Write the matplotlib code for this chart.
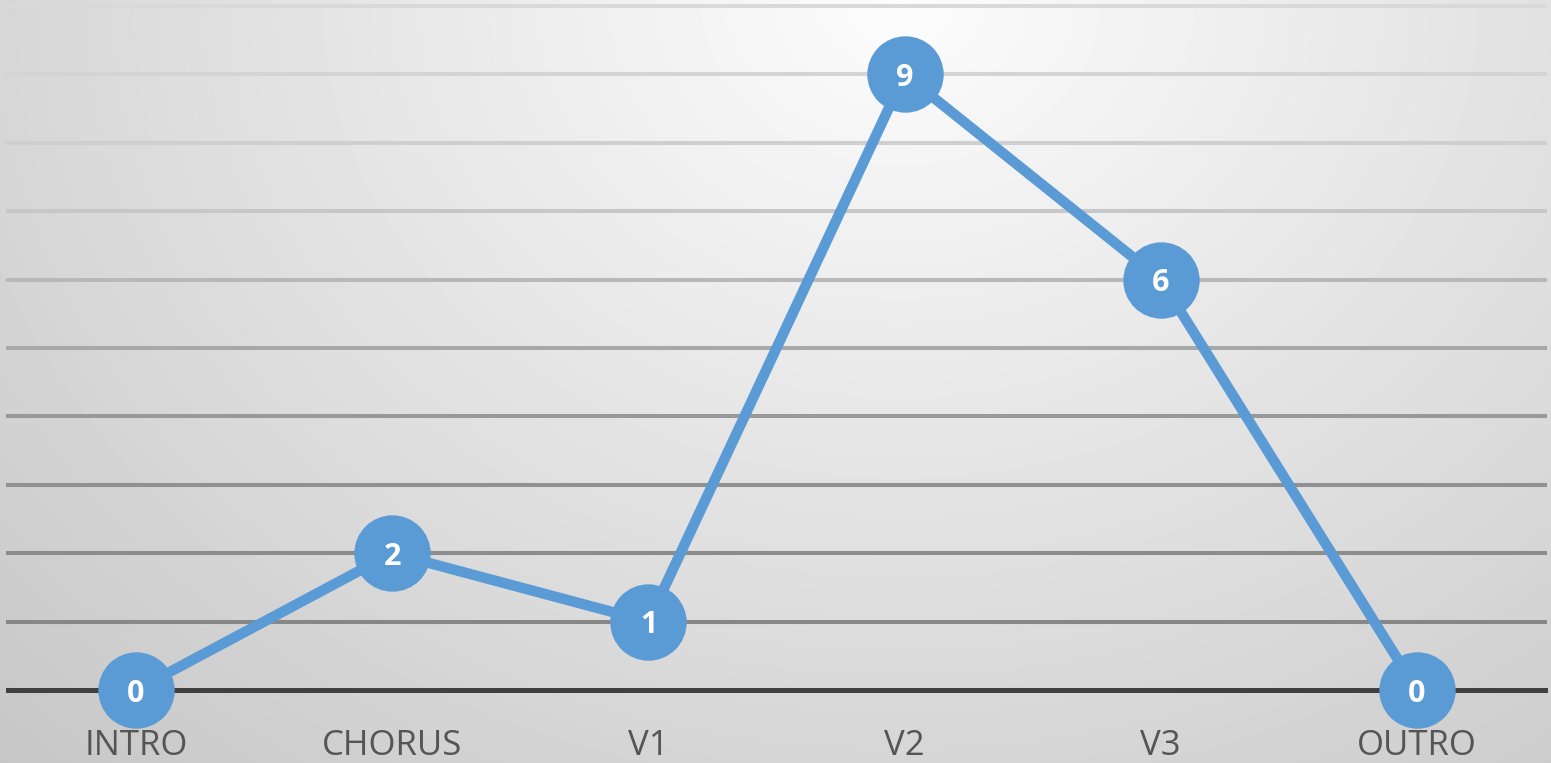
import matplotlib.pyplot as plt
import matplotlib.transforms as mtransforms
import numpy as np

sections = ["INTRO", "CHORUS", "V1", "V2", "V3", "OUTRO"]
counts = [0, 2, 1, 9, 6, 0]
grid_levels = [1, 2, 3, 4, 5, 6, 7, 8, 9, 10]
grid_grays = [0.53, 0.55, 0.57, 0.60, 0.66, 0.72, 0.78, 0.81, 0.83, 0.85]

W, H = 1551, 763
fig = plt.figure(figsize=(W / 100, H / 100), dpi=100)

# radial background, light at top middle, grey toward the corners
bg = fig.add_axes([0, 0, 1, 1], zorder=0)
yy, xx = np.mgrid[0:H, 0:W]
r = np.sqrt(((xx - 900) / 1150.0) ** 2 + (yy / 950.0) ** 2)
shade = np.clip(0.99 - 0.19 * r, 0, 1)
bg.imshow(shade, cmap="gray", vmin=0, vmax=1, aspect="auto", extent=[0, 1, 0, 1])
bg.axis("off")

left, right = 8 / W, 1545 / W
bottom, top = (H - 690) / H, (H - 6) / H
ax = fig.add_axes([left, bottom, right - left, top - bottom], zorder=1)
ax.patch.set_alpha(0)
x = np.arange(len(sections))
ax.set_xlim(-0.5, len(sections) - 0.5)
ax.set_ylim(0, 10)
for s in ax.spines.values():
    s.set_visible(False)
ax.set_xticks([])
ax.set_yticks([])

for lvl, g in zip(grid_levels, grid_grays):
    ax.axhline(lvl, color=str(g), lw=2.9, zorder=1, clip_on=False)
ax.axhline(0, color="#404040", lw=3.6, zorder=2, clip_on=False)

ax.plot(x, counts, color="#5b9bd5", lw=7.5, marker="o", markersize=55,
        markeredgewidth=0, zorder=3, clip_on=False, solid_capstyle="round")

for xi, v in zip(x, counts):
    ax.text(xi, v, str(v), color="white", fontsize=22, fontweight="bold",
            family="Open Sans", ha="center", va="center_baseline", zorder=4)

blend = mtransforms.blended_transform_factory(ax.transData, fig.transFigure)
for xi, name in zip(x, sections):
    ax.text(xi, (H - 755) / H, name, transform=blend, color="#555555",
            fontsize=25, family="Open Sans", ha="center", va="baseline",
            clip_on=False)

fig.savefig("out.png", dpi=100)
